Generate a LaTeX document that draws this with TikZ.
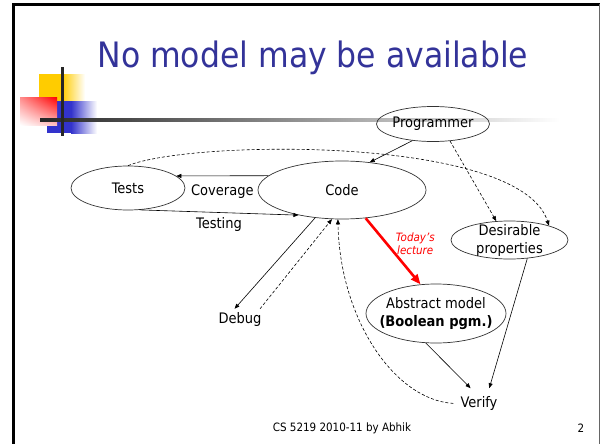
\documentclass[tikz,border=0pt]{standalone}
\usepackage{fontspec}
\setmainfont{DejaVu Sans Condensed}
\usetikzlibrary{shapes.geometric,arrows.meta,shadings}
\definecolor{titleblue}{RGB}{51,51,153}
\definecolor{baryellow}{RGB}{255,204,0}
\definecolor{barblue}{RGB}{51,51,204}

\begin{document}
\begin{tikzpicture}[x=1pt,y=-1pt,
  >={Triangle[length=5pt,width=4pt]},
  txt/.style={font=\fontsize{14.5}{18}\selectfont},
  oval/.style={ellipse,draw=black!80,line width=0.7pt,inner sep=0pt},
  every label/.style={txt,align=center,inner sep=0pt},
  link/.style={->,line width=0.6pt},
  hint/.style={->,line width=0.6pt,dash pattern=on 3pt off 2pt},
  lecture/.style={-{Triangle[length=10pt,width=8pt]},red,line width=2.6pt}]

\useasboundingbox (0,0) rectangle (602,444);

% slide frame
\draw[line width=3pt] (13.5,444) -- (13.5,4.5) -- (600,4.5);
\draw[line width=1pt,black!60] (599.5,4.5) -- (599.5,444);

% corner ornament
\fill[baryellow] (39,74) rectangle (62,102);
\shade[left color=baryellow,right color=white] (62,74) rectangle (85,102);
\fill[barblue] (47,101) rectangle (71,133);
\shade[left color=barblue,right color=white] (71,101) rectangle (97,133);
\shade[upper right=red,upper left=red!45,lower left=white,lower right=red!25] (20,97) rectangle (57,125);
\shade[left color=black!85,middle color=black!50,right color=white] (40,118) rectangle (560,121);
\fill[black!85] (61,67) rectangle (64,136);

% title
\node[font=\fontsize{35}{40}\selectfont,text=titleblue] (title) at (313,58) {No model may be available};

% ellipses
\node[oval,minimum width=113pt,minimum height=35pt,label=center:Programmer] (prog) at (433,124) {};
\node[oval,minimum width=168pt,minimum height=58pt,label=center:Code] (code) at (342,190) {};
\node[oval,minimum width=114pt,minimum height=44pt,label=center:Tests] (tests) at (128,188) {};
\node[oval,minimum width=117pt,minimum height=38pt,label={center:Desirable\\properties}] (desire) at (509.5,240) {};
\node[oval,minimum width=140pt,minimum height=59pt,label={center:Abstract model\\\textbf{(Boolean pgm.)}}] (absm) at (436,313.5) {};

% plain labels
\node[txt,inner sep=3pt] (debug) at (240,319) {Debug};
\node[txt,inner xsep=7pt,inner ysep=8pt] (verify) at (479,403.4) {Verify};

% programmer
\draw[link] (prog.219) -- (code.45);
\draw[hint] (prog.-45) -- (desire.125);

% tests and code
\draw[link] (code.169) -- (tests.14) node[txt,midway,below=5pt] {Coverage};
\draw[link] (tests.-62) -- (code.210) node[txt,midway,below=1pt] {Testing};
\draw[hint] (tests.north) .. controls (190,140) and (520,135) .. (desire.20);

% debug
\draw[link] (code.226) -- (debug.118);
\draw[hint] (debug.27) -- (code.251);

% today's lecture
\draw[lecture] (code.-50) -- (absm.118) node[pos=0.38,right=8pt,text=red,align=center,inner sep=0pt,
  font=\fontsize{11.5}{13}\selectfont\itshape] {Today's\\lecture};

% verify
\draw[link] (absm.251) -- (verify.119);
\draw[link] (desire.-46) -- (verify.56);
\draw[hint] (verify.west) .. controls (395,400) and (340,320) .. (code.262);

% footer
\node[font=\fontsize{11.5}{13}\selectfont] (foot) at (342,428) {CS 5219 2010-11 by Abhik};
\node[font=\fontsize{11.5}{13}\selectfont] (page) at (581,428) {2};

\end{tikzpicture}
\end{document}
